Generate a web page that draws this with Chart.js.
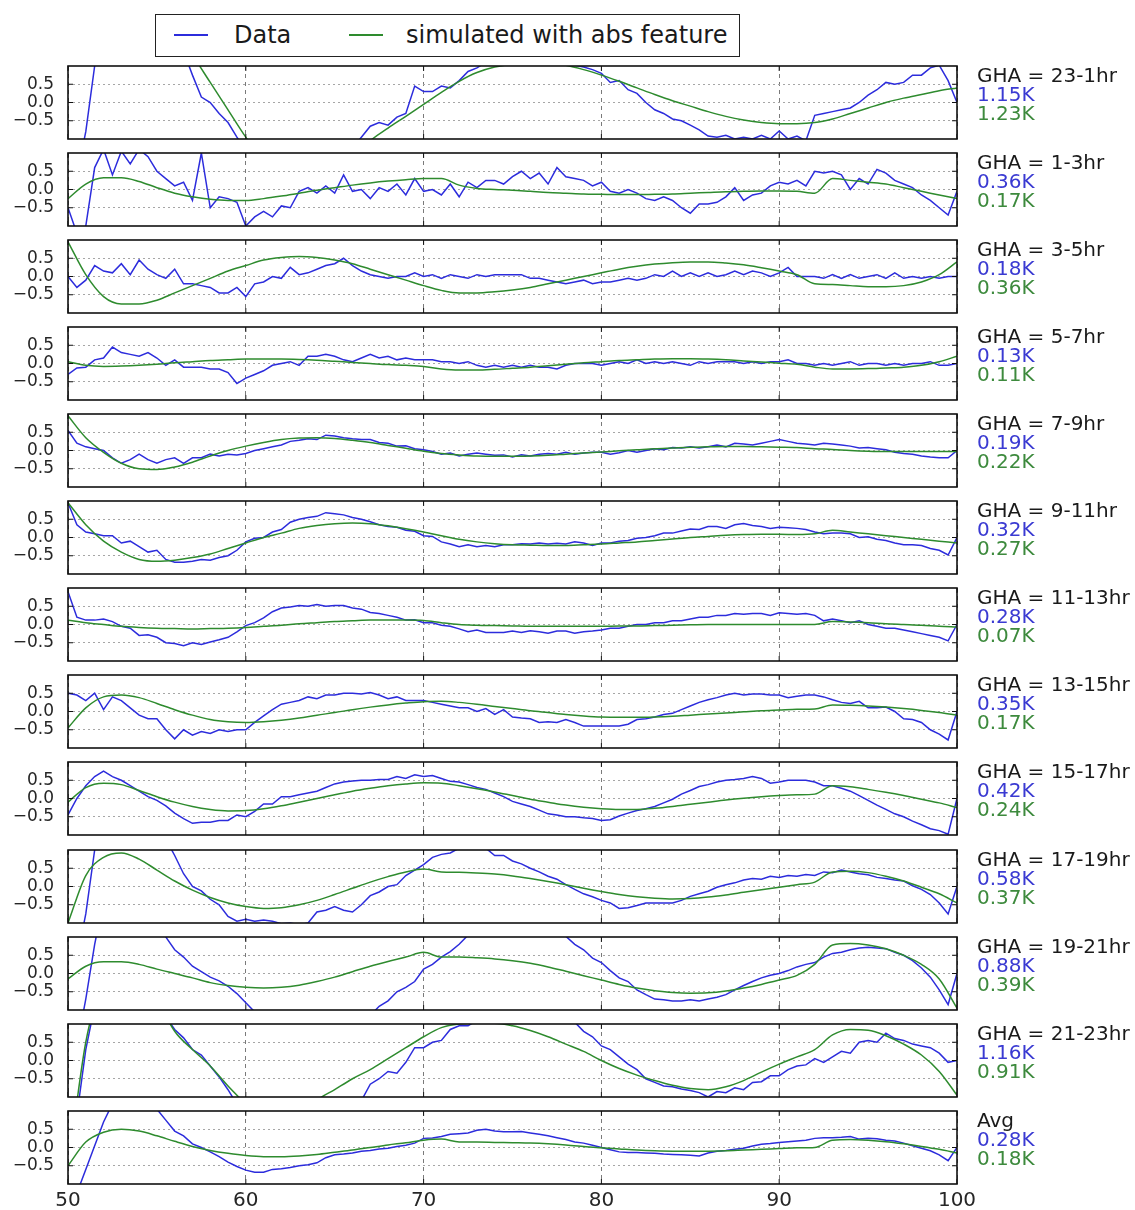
<!DOCTYPE html>
<html lang="en">
<head>
<meta charset="utf-8">
<title>Residuals by GHA bin</title>
<script src="https://cdn.jsdelivr.net/npm/chart.js@4.4.1/dist/chart.umd.min.js"></script>
<style>
  body { margin: 0; background: #fff; }
  #figure { position: relative; width: 1135px; height: 1210px; overflow: hidden; font-family: "DejaVu Sans", sans-serif; color: #1a1a1a; }
  .panel { position: absolute; left: 0; width: 1135px; height: 132px; }
  .tag { position: absolute; left: 977px; font-size: 20px; line-height: 19px; white-space: nowrap; }
  #legend { position: absolute; left: 155px; top: 14px; width: 585px; height: 43px; box-sizing: border-box; border: 1.5px solid #222; background: #fff; }
  #legend .key { position: absolute; top: 19px; height: 2px; width: 34px; }
  #legend .name { position: absolute; top: 0; line-height: 40px; font-size: 24px; white-space: nowrap; }
</style>
</head>
<body>
<div id="figure">
  <div id="legend">
    <span class="key" id="keyData" style="left: 18px"></span>
    <span class="name" style="left: 78px">Data</span>
    <span class="key" id="keySim" style="left: 193px"></span>
    <span class="name" style="left: 250px">simulated with abs feature</span>
  </div>
</div>
<script>
const BLUE = '#2c2cdc';
const GREEN = '#2e8b2e';
const BLUE_TXT = '#3a3ad2';
const GREEN_TXT = '#3d8a3d';

// frequency grid (MHz): residual spectra every 0.5, model every 1
const freqs = [];
for (let f = 50; f <= 100; f += 0.5) freqs.push(f);
const simFreqs = [];
for (let f = 50; f <= 100; f += 1) simFreqs.push(f);

const yTicks = [-0.5, 0, 0.5];

const ghaBins = ['GHA = 23-1hr', 'GHA = 1-3hr', 'GHA = 3-5hr', 'GHA = 5-7hr', 'GHA = 7-9hr',
  'GHA = 9-11hr', 'GHA = 11-13hr', 'GHA = 13-15hr', 'GHA = 15-17hr', 'GHA = 17-19hr',
  'GHA = 19-21hr', 'GHA = 21-23hr', 'Avg'];
const dataRms = ['1.15K', '0.36K', '0.18K', '0.13K', '0.19K', '0.32K', '0.28K', '0.35K', '0.42K', '0.58K', '0.88K', '1.16K', '0.28K'];
const simRms = ['1.23K', '0.17K', '0.36K', '0.11K', '0.22K', '0.27K', '0.07K', '0.17K', '0.24K', '0.37K', '0.39K', '0.91K', '0.18K'];

// measured residuals (K), one value per freqs entry
const data23_1 = [
  -3.0, -2.0, -0.8, 1.0, 2.4, 3.2, 3.6, 3.8, 3.8, 3.6,
  3.2, 2.6, 2.0, 1.4, 0.75, 0.15, 0.0, -0.3, -0.55, -0.95,
  -1.3, -1.7, -2.0, -2.2, -2.3, -2.4, -2.5, -2.5, -2.4, -2.2,
  -2.0, -1.7, -1.25, -0.95, -0.65, -0.55, -0.62, -0.4, -0.3, 0.45,
  0.3, 0.3, 0.45, 0.4, 0.6, 0.85, 0.95, 1.1, 1.2, 1.3,
  1.35, 1.4, 1.4, 1.35, 1.3, 1.2, 1.1, 1.02, 0.97, 0.9,
  0.8, 0.55, 0.6, 0.35, 0.25, 0.0, -0.2, -0.3, -0.45, -0.5,
  -0.62, -0.75, -0.92, -0.95, -0.9, -1.0, -0.95, -1.0, -0.9, -1.0,
  -0.78, -1.0, -0.92, -1.05, -0.35, -0.3, -0.25, -0.2, -0.15, 0.0,
  0.2, 0.35, 0.55, 0.5, 0.55, 0.75, 0.75, 0.95, 1.02, 0.6,
  0.0];
const data1_3 = [
  -0.5, -1.2, -1.0, 0.6, 1.1, 0.4, 1.05, 0.7, 1.1, 0.9,
  0.5, 0.3, 0.1, 0.2, -0.3, 1.0, -0.5, -0.2, -0.25, -0.35,
  -1.0, -0.75, -0.6, -0.75, -0.45, -0.5, -0.05, 0.05, -0.1, 0.1,
  -0.1, 0.4, -0.05, 0.0, -0.25, 0.05, -0.05, 0.15, -0.15, 0.3,
  -0.05, 0.0, -0.15, 0.15, -0.2, 0.2, 0.05, 0.25, 0.25, 0.15,
  0.35, 0.5, 0.3, 0.45, 0.15, 0.6, 0.35, 0.3, 0.25, 0.1,
  0.2, -0.05, -0.1, 0.0, -0.1, -0.25, -0.3, -0.2, -0.3, -0.5,
  -0.65, -0.4, -0.4, -0.35, -0.2, 0.05, -0.3, -0.15, -0.1, 0.1,
  0.2, 0.15, 0.25, 0.1, 0.5, 0.45, 0.5, 0.4, 0.0, 0.3,
  0.15, 0.55, 0.45, 0.25, 0.15, 0.05, -0.15, -0.3, -0.5, -0.7,
  -0.05];
const data3_5 = [
  0.0, -0.3, -0.1, 0.3, 0.15, 0.1, 0.35, 0.05, 0.45, 0.2,
  0.05, -0.05, 0.2, -0.2, -0.2, -0.25, -0.3, -0.45, -0.45, -0.3,
  -0.55, -0.2, -0.15, 0.0, -0.05, 0.25, 0.05, 0.1, 0.2, 0.3,
  0.35, 0.5, 0.3, 0.15, 0.05, 0.0, -0.05, 0.0, 0.0, 0.1,
  0.0, 0.05, -0.05, 0.05, 0.0, -0.05, 0.05, 0.0, 0.05, 0.05,
  0.05, 0.05, -0.05, -0.05, -0.1, -0.15, -0.2, -0.15, -0.1, -0.2,
  -0.15, -0.15, -0.1, -0.05, -0.1, -0.05, 0.05, 0.0, 0.15, 0.0,
  0.1, 0.0, 0.1, 0.0, 0.05, 0.15, 0.05, 0.15, 0.1, 0.0,
  0.1, 0.25, 0.0, 0.0, 0.0, -0.05, 0.05, -0.05, 0.05, -0.05,
  0.0, 0.05, -0.05, 0.1, -0.05, 0.0, -0.05, 0.0, -0.05, 0.0,
  0.0];
const data5_7 = [
  -0.3, -0.12, -0.1, 0.1, 0.15, 0.45, 0.3, 0.25, 0.2, 0.3,
  0.15, -0.05, 0.1, -0.1, -0.1, -0.1, -0.15, -0.15, -0.25, -0.55,
  -0.4, -0.3, -0.2, -0.05, 0.0, 0.05, -0.05, 0.2, 0.2, 0.25,
  0.2, 0.1, 0.05, 0.15, 0.25, 0.15, 0.2, 0.1, 0.15, 0.1,
  0.1, 0.1, 0.05, 0.05, 0.0, 0.05, -0.05, -0.1, -0.05, -0.1,
  -0.05, -0.1, -0.05, -0.1, -0.1, -0.15, -0.05, 0.0, 0.0, 0.0,
  -0.05, 0.0, 0.05, 0.0, 0.1, 0.0, 0.05, 0.0, 0.05, 0.0,
  -0.05, 0.05, 0.0, 0.05, 0.05, 0.05, 0.0, 0.05, 0.0, 0.05,
  0.05, 0.1, 0.0, 0.0, -0.05, 0.0, -0.05, 0.0, 0.05, -0.05,
  0.0, 0.0, -0.05, 0.0, -0.05, 0.0, 0.0, 0.05, -0.05, -0.05,
  0.0];
const data7_9 = [
  0.55, 0.2, 0.1, 0.05, 0.0, -0.2, -0.35, -0.25, -0.1, -0.25,
  -0.35, -0.25, -0.2, -0.35, -0.2, -0.2, -0.1, -0.15, -0.1, -0.12,
  -0.08, 0.0, 0.05, 0.1, 0.15, 0.25, 0.28, 0.32, 0.3, 0.42,
  0.4, 0.35, 0.32, 0.3, 0.3, 0.22, 0.2, 0.12, 0.13, 0.05,
  0.02, -0.03, -0.1, -0.07, -0.15, -0.1, -0.07, -0.1, -0.13, -0.12,
  -0.18, -0.12, -0.15, -0.1, -0.08, -0.1, -0.05, -0.1, -0.07, -0.05,
  -0.05, -0.1, -0.06, 0.0, -0.05, 0.0, 0.05, 0.02, 0.08, 0.07,
  0.1, 0.07, 0.1, 0.15, 0.1, 0.2, 0.18, 0.15, 0.2, 0.25,
  0.3, 0.25, 0.2, 0.18, 0.15, 0.2, 0.18, 0.15, 0.12, 0.07,
  0.08, 0.05, 0.02, -0.05, -0.08, -0.1, -0.15, -0.18, -0.2, -0.2,
  0.0];
const data9_11 = [
  0.95, 0.35, 0.15, 0.1, 0.05, 0.05, -0.15, -0.1, -0.25, -0.4,
  -0.35, -0.6, -0.68, -0.68, -0.65, -0.6, -0.62, -0.55, -0.5, -0.35,
  -0.12, -0.02, 0.0, 0.15, 0.22, 0.42, 0.5, 0.55, 0.58, 0.68,
  0.65, 0.62, 0.55, 0.5, 0.43, 0.35, 0.3, 0.28, 0.2, 0.17,
  0.05, 0.03, -0.12, -0.18, -0.25, -0.2, -0.25, -0.22, -0.25, -0.2,
  -0.2, -0.17, -0.18, -0.15, -0.18, -0.16, -0.18, -0.12, -0.15, -0.22,
  -0.15, -0.15, -0.1, -0.08, -0.02, 0.0, 0.05, 0.12, 0.12, 0.18,
  0.23, 0.22, 0.3, 0.3, 0.25, 0.35, 0.38, 0.33, 0.3, 0.25,
  0.28, 0.27, 0.25, 0.22, 0.15, 0.1, 0.12, 0.12, 0.1, 0.0,
  0.02, -0.05, -0.08, -0.15, -0.2, -0.2, -0.22, -0.3, -0.35, -0.48,
  0.0];
const data11_13 = [
  0.9, 0.2, 0.12, 0.12, 0.15, 0.08, -0.05, -0.1, -0.3, -0.28,
  -0.35, -0.5, -0.52, -0.58, -0.5, -0.55, -0.48, -0.42, -0.35, -0.2,
  -0.03, 0.05, 0.18, 0.35, 0.45, 0.48, 0.52, 0.5, 0.55, 0.5,
  0.52, 0.52, 0.45, 0.42, 0.33, 0.3, 0.25, 0.2, 0.12, 0.13,
  0.05, 0.05, -0.02, -0.05, -0.12, -0.2, -0.15, -0.22, -0.22, -0.22,
  -0.18, -0.22, -0.17, -0.2, -0.24, -0.18, -0.18, -0.24, -0.2, -0.18,
  -0.15, -0.1, -0.1, -0.05, 0.0, 0.0, 0.05, 0.05, 0.1, 0.1,
  0.15, 0.2, 0.2, 0.25, 0.25, 0.3, 0.28, 0.3, 0.3, 0.25,
  0.32, 0.3, 0.28, 0.3, 0.25, 0.1, 0.15, 0.1, 0.05, 0.1,
  0.0, -0.05, -0.1, -0.1, -0.15, -0.2, -0.25, -0.3, -0.35, -0.45,
  0.0];
const data13_15 = [
  0.5, 0.45, 0.3, 0.5, 0.05, 0.4, 0.3, 0.1, -0.1, -0.2,
  -0.2, -0.5, -0.75, -0.5, -0.65, -0.55, -0.6, -0.5, -0.55, -0.5,
  -0.5, -0.3, -0.12, 0.05, 0.2, 0.25, 0.3, 0.4, 0.35, 0.45,
  0.45, 0.5, 0.5, 0.48, 0.52, 0.45, 0.35, 0.4, 0.3, 0.3,
  0.3, 0.25, 0.2, 0.15, 0.1, 0.1, 0.0, 0.08, -0.08, 0.05,
  -0.15, -0.18, -0.2, -0.3, -0.28, -0.3, -0.22, -0.3, -0.4, -0.4,
  -0.4, -0.4, -0.4, -0.35, -0.22, -0.2, -0.15, -0.08, -0.05, 0.05,
  0.15, 0.25, 0.32, 0.38, 0.45, 0.5, 0.45, 0.48, 0.48, 0.45,
  0.45, 0.38, 0.42, 0.45, 0.45, 0.4, 0.32, 0.25, 0.22, 0.28,
  0.1, 0.1, 0.12, 0.0, -0.2, -0.22, -0.3, -0.5, -0.62, -0.78,
  0.0];
const data15_17 = [
  -0.45, 0.0, 0.35, 0.6, 0.75, 0.6, 0.5, 0.35, 0.2, 0.05,
  -0.05, -0.2, -0.4, -0.55, -0.68, -0.65, -0.65, -0.6, -0.6, -0.45,
  -0.5, -0.35, -0.15, -0.15, 0.05, 0.05, 0.1, 0.15, 0.2, 0.3,
  0.4, 0.45, 0.48, 0.5, 0.5, 0.52, 0.52, 0.6, 0.55, 0.65,
  0.6, 0.63, 0.55, 0.47, 0.45, 0.38, 0.3, 0.25, 0.15, 0.05,
  -0.08, -0.15, -0.22, -0.32, -0.42, -0.45, -0.5, -0.5, -0.53, -0.55,
  -0.6, -0.58, -0.48, -0.4, -0.33, -0.28, -0.22, -0.12, -0.02, 0.12,
  0.22, 0.33, 0.38, 0.45, 0.5, 0.52, 0.55, 0.6, 0.55, 0.42,
  0.45, 0.5, 0.5, 0.5, 0.45, 0.35, 0.35, 0.28, 0.2, 0.08,
  -0.05, -0.18, -0.3, -0.42, -0.5, -0.62, -0.72, -0.83, -0.88, -0.98,
  0.0];
const data17_19 = [
  -3.0, -2.0, -0.75, 1.0, 2.2, 3.0, 3.3, 3.3, 3.0, 2.6,
  2.0, 1.3, 0.85, 0.35, 0.0, -0.12, -0.35, -0.5, -0.82, -0.95,
  -0.9, -0.95, -0.92, -0.95, -1.02, -1.0, -1.05, -1.0, -0.7, -0.65,
  -0.55, -0.65, -0.7, -0.5, -0.25, -0.15, 0.0, 0.05, 0.3, 0.45,
  0.6, 0.8, 0.88, 0.92, 1.05, 1.15, 1.15, 1.05, 0.85, 0.85,
  0.7, 0.62, 0.5, 0.4, 0.28, 0.2, 0.05, -0.08, -0.2, -0.28,
  -0.38, -0.45, -0.6, -0.58, -0.52, -0.45, -0.45, -0.45, -0.45, -0.38,
  -0.27, -0.2, -0.13, -0.02, 0.05, 0.1, 0.18, 0.22, 0.2, 0.28,
  0.25, 0.3, 0.28, 0.33, 0.3, 0.4, 0.38, 0.45, 0.4, 0.35,
  0.32, 0.25, 0.22, 0.18, 0.15, 0.02, -0.08, -0.22, -0.45, -0.75,
  0.0];
const data19_21 = [
  -3.0, -2.0, -0.7, 0.8, 2.0, 2.8, 3.2, 3.4, 3.2, 2.6,
  1.8, 1.0, 0.65, 0.45, 0.2, 0.05, -0.1, -0.2, -0.35, -0.55,
  -0.8, -1.05, -1.35, -1.6, -1.8, -2.0, -2.1, -2.2, -2.2, -2.1,
  -2.0, -1.8, -1.6, -1.35, -1.15, -0.9, -0.75, -0.5, -0.38, -0.22,
  0.12, 0.25, 0.45, 0.6, 0.8, 1.05, 1.2, 1.3, 1.4, 1.45,
  1.5, 1.5, 1.45, 1.4, 1.3, 1.15, 1.02, 0.8, 0.65, 0.42,
  0.3, 0.08, -0.12, -0.22, -0.45, -0.58, -0.7, -0.72, -0.75, -0.75,
  -0.72, -0.75, -0.7, -0.65, -0.58, -0.45, -0.33, -0.22, -0.12, -0.05,
  0.0, 0.08, 0.18, 0.25, 0.3, 0.45, 0.55, 0.58, 0.65, 0.7,
  0.72, 0.7, 0.68, 0.58, 0.5, 0.35, 0.15, -0.1, -0.45, -0.85,
  0.0];
const data21_23 = [
  -3.0, -1.5, 0.3, 1.5, 2.5, 3.0, 3.2, 3.2, 3.0, 2.6,
  2.0, 1.2, 0.85, 0.62, 0.3, 0.15, -0.15, -0.45, -0.8, -1.2,
  -1.6, -2.0, -2.3, -2.5, -2.6, -2.6, -2.5, -2.3, -2.1, -1.9,
  -1.7, -1.5, -1.3, -1.1, -0.65, -0.5, -0.3, -0.35, -0.05, 0.35,
  0.35, 0.5, 0.55, 0.85, 0.95, 0.95, 1.1, 1.2, 1.3, 1.35,
  1.4, 1.4, 1.35, 1.3, 1.25, 1.2, 1.1, 1.05, 0.8, 0.65,
  0.4, 0.3, 0.1, -0.1, -0.25, -0.5, -0.6, -0.7, -0.72, -0.78,
  -0.82, -0.88, -1.0, -0.85, -0.88, -0.75, -0.8, -0.6, -0.58, -0.42,
  -0.42, -0.25, -0.15, -0.12, 0.05, -0.05, 0.1, 0.25, 0.2, 0.5,
  0.55, 0.5, 0.75, 0.6, 0.55, 0.45, 0.4, 0.35, 0.2, -0.05,
  0.0];
const dataAvg = [
  -1.8, -1.25, -0.6, 0.05, 0.7, 1.2, 1.3, 1.4, 1.35, 1.2,
  1.05, 0.75, 0.45, 0.32, 0.1, 0.0, -0.12, -0.25, -0.4, -0.52,
  -0.62, -0.68, -0.68, -0.6, -0.58, -0.55, -0.5, -0.47, -0.42, -0.28,
  -0.2, -0.18, -0.15, -0.1, -0.08, -0.04, -0.02, 0.03, 0.06, 0.12,
  0.25, 0.26, 0.3, 0.36, 0.38, 0.4, 0.47, 0.5, 0.45, 0.43,
  0.43, 0.44, 0.4, 0.36, 0.32, 0.27, 0.22, 0.15, 0.12, 0.06,
  0.0, -0.06, -0.12, -0.14, -0.14, -0.15, -0.16, -0.18, -0.19, -0.2,
  -0.21, -0.23, -0.15, -0.1, -0.08, -0.05, -0.02, 0.04, 0.09, 0.11,
  0.14, 0.16, 0.18, 0.2, 0.25, 0.27, 0.27, 0.28, 0.3, 0.23,
  0.25, 0.24, 0.2, 0.18, 0.12, 0.05, -0.02, -0.09, -0.2, -0.36,
  0.0];

// simulated spectra with the absorption feature (K), one value per simFreqs entry
const sim23_1 = [
  4.0, 4.4, 4.5, 4.2, 3.6, 2.8, 2.0, 1.3, 0.55, -0.2,
  -0.95, -1.6, -2.1, -2.4, -2.4, -2.1, -1.6, -1.05, -0.7, -0.38,
  -0.05, 0.28, 0.58, 0.82, 0.97, 1.05, 1.1, 1.08, 1.02, 0.9,
  0.75, 0.58, 0.4, 0.22, 0.05, -0.1, -0.25, -0.38, -0.48, -0.55,
  -0.58, -0.58, -0.55, -0.45, -0.3, -0.15, 0.0, 0.12, 0.22, 0.32, 0.4];
const sim1_3 = [
  -0.25, 0.15, 0.32, 0.32, 0.22, 0.05, -0.1, -0.2, -0.27, -0.3,
  -0.3, -0.25, -0.18, -0.1, -0.02, 0.05, 0.12, 0.18, 0.23, 0.27,
  0.3, 0.3, 0.12, 0.03, 0.0, -0.02, -0.05, -0.08, -0.1, -0.12,
  -0.13, -0.14, -0.14, -0.13, -0.12, -0.1, -0.08, -0.06, -0.05, -0.04,
  -0.04, -0.05, -0.1, 0.3, 0.25, 0.2, 0.15, 0.05, -0.05, -0.15, -0.25];
const sim3_5 = [
  0.95, 0.05, -0.55, -0.75, -0.75, -0.65, -0.45, -0.25, -0.05, 0.15,
  0.3, 0.45, 0.52, 0.55, 0.52, 0.45, 0.35, 0.2, 0.05, -0.1,
  -0.25, -0.38, -0.45, -0.45, -0.42, -0.37, -0.3, -0.2, -0.1, 0.0,
  0.1, 0.2, 0.28, 0.34, 0.38, 0.4, 0.4, 0.37, 0.32, 0.24,
  0.15, 0.05, -0.2, -0.22, -0.25, -0.28, -0.28, -0.25, -0.15, 0.05, 0.4];
const sim5_7 = [
  0.05, -0.05, -0.08, -0.07, -0.05, -0.02, 0.02, 0.05, 0.08, 0.1,
  0.12, 0.12, 0.12, 0.11, 0.09, 0.06, 0.03, 0.0, -0.03, -0.05,
  -0.08, -0.15, -0.18, -0.18, -0.16, -0.13, -0.1, -0.06, -0.02, 0.02,
  0.05, 0.08, 0.1, 0.12, 0.13, 0.13, 0.12, 0.1, 0.07, 0.04,
  0.01, -0.02, -0.1, -0.15, -0.15, -0.14, -0.12, -0.1, -0.05, 0.05, 0.2];
const sim7_9 = [
  0.95, 0.35, -0.05, -0.35, -0.5, -0.52, -0.45, -0.32, -0.15, 0.0,
  0.12, 0.22, 0.3, 0.34, 0.35, 0.33, 0.28, 0.22, 0.14, 0.06,
  -0.02, -0.08, -0.12, -0.15, -0.16, -0.16, -0.15, -0.13, -0.1, -0.07,
  -0.04, -0.01, 0.02, 0.05, 0.07, 0.09, 0.1, 0.11, 0.11, 0.1,
  0.09, 0.08, 0.05, 0.03, 0.0, -0.02, -0.03, -0.03, -0.03, -0.03, -0.03];
const sim9_11 = [
  0.95, 0.35, -0.1, -0.4, -0.6, -0.65, -0.62, -0.55, -0.45, -0.3,
  -0.15, 0.0, 0.12, 0.25, 0.33, 0.38, 0.4, 0.38, 0.32, 0.24,
  0.15, 0.05, -0.05, -0.12, -0.17, -0.2, -0.21, -0.22, -0.22, -0.2,
  -0.18, -0.15, -0.12, -0.08, -0.04, 0.0, 0.03, 0.06, 0.08, 0.09,
  0.09, 0.08, 0.1, 0.2, 0.15, 0.1, 0.05, 0.0, -0.05, -0.1, -0.15];
const sim11_13 = [
  0.12, 0.05, 0.0, -0.05, -0.08, -0.1, -0.11, -0.12, -0.11, -0.1,
  -0.08, -0.05, -0.02, 0.02, 0.05, 0.08, 0.1, 0.12, 0.12, 0.12,
  0.11, 0.05, 0.0, -0.02, -0.03, -0.04, -0.05, -0.05, -0.05, -0.05,
  -0.05, -0.04, -0.04, -0.03, -0.02, -0.01, 0.0, 0.0, 0.0, 0.0,
  0.0, 0.0, 0.0, 0.08, 0.07, 0.05, 0.02, 0.0, -0.02, -0.05, -0.07];
const sim13_15 = [
  -0.45, 0.1, 0.4, 0.45, 0.38, 0.22, 0.05, -0.1, -0.22, -0.28,
  -0.3, -0.28, -0.24, -0.18, -0.1, -0.03, 0.05, 0.12, 0.18, 0.23,
  0.27, 0.28, 0.25, 0.2, 0.14, 0.08, 0.02, -0.03, -0.08, -0.12,
  -0.15, -0.16, -0.16, -0.15, -0.13, -0.1, -0.07, -0.04, -0.01, 0.02,
  0.04, 0.06, 0.07, 0.18, 0.17, 0.15, 0.12, 0.08, 0.03, -0.03, -0.1];
const sim15_17 = [
  -0.1, 0.3, 0.42, 0.38, 0.22, 0.05, -0.1, -0.22, -0.3, -0.34,
  -0.33, -0.28, -0.2, -0.1, 0.0, 0.1, 0.2, 0.28, 0.35, 0.4,
  0.43, 0.42, 0.35, 0.27, 0.18, 0.08, -0.02, -0.1, -0.18, -0.24,
  -0.28, -0.3, -0.3, -0.27, -0.22, -0.16, -0.1, -0.04, 0.01, 0.05,
  0.08, 0.1, 0.12, 0.35, 0.32, 0.25, 0.17, 0.08, -0.02, -0.12, -0.25];
const sim17_19 = [
  -1.0, 0.3, 0.8, 0.92, 0.75, 0.45, 0.15, -0.1, -0.3, -0.45,
  -0.55, -0.6, -0.58, -0.5, -0.38, -0.22, -0.05, 0.12, 0.27, 0.4,
  0.48, 0.4, 0.39, 0.37, 0.34, 0.29, 0.22, 0.14, 0.05, -0.05,
  -0.14, -0.22, -0.28, -0.32, -0.34, -0.33, -0.29, -0.23, -0.16, -0.09,
  -0.02, 0.05, 0.12, 0.4, 0.42, 0.38, 0.28, 0.15, -0.02, -0.2, -0.45];
const sim19_21 = [
  -0.15, 0.2, 0.32, 0.32, 0.25, 0.12, 0.0, -0.12, -0.25, -0.33,
  -0.38, -0.4, -0.38, -0.32, -0.22, -0.1, 0.05, 0.2, 0.33, 0.45,
  0.58, 0.45, 0.45, 0.43, 0.4, 0.35, 0.28, 0.18, 0.06, -0.06,
  -0.18, -0.3, -0.4, -0.47, -0.52, -0.54, -0.53, -0.48, -0.4, -0.3,
  -0.18, -0.05, 0.25, 0.78, 0.82, 0.78, 0.68, 0.5, 0.25, -0.15, -0.95];
const sim21_23 = [
  -3.0, 0.5, 2.2, 3.0, 2.8, 1.7, 0.8, 0.3, -0.15, -0.7,
  -1.2, -1.7, -1.9, -1.7, -1.1, -0.8, -0.5, -0.25, 0.05, 0.35,
  0.65, 0.9, 1.0, 1.02, 1.02, 0.95, 0.82, 0.65, 0.45, 0.25,
  0.0, -0.22, -0.4, -0.55, -0.68, -0.77, -0.8, -0.72, -0.55, -0.32,
  -0.1, 0.1, 0.3, 0.7, 0.85, 0.83, 0.68, 0.45, 0.15, -0.3, -0.95];
const simAvg = [
  -0.5, 0.15, 0.42, 0.5, 0.45, 0.32, 0.17, 0.03, -0.08, -0.16,
  -0.22, -0.25, -0.25, -0.23, -0.19, -0.13, -0.07, 0.0, 0.07, 0.13,
  0.2, 0.23, 0.15, 0.15, 0.14, 0.13, 0.12, 0.1, 0.07, 0.03,
  -0.01, -0.04, -0.07, -0.09, -0.1, -0.1, -0.1, -0.09, -0.07, -0.05,
  -0.03, -0.01, 0.0, 0.2, 0.22, 0.2, 0.16, 0.1, 0.03, -0.05, -0.15];

const dataSeries = [data23_1, data1_3, data3_5, data5_7, data7_9, data9_11, data11_13,
  data13_15, data15_17, data17_19, data19_21, data21_23, dataAvg];
const simSeries = [sim23_1, sim1_3, sim3_5, sim5_7, sim7_9, sim9_11, sim11_13,
  sim13_15, sim15_17, sim17_19, sim19_21, sim21_23, simAvg];

// panel geometry on the page
const FIRST_TOP = 66;
const PANEL_STEP = 87.06;
const PAD_TOP = 26;
const PLOT_RIGHT = 957;

function toPoints(xs, ys) {
    return xs.map((x, i) => ({x: x, y: ys[i]}));
}

function tickLabel(v) {
    return (v < 0 ? '\u2212' : '') + Math.abs(v).toFixed(1);
}

// black box round the plot area with inward tick marks on all four sides
const framePlugin = {
    id: 'frame',
    afterDraw(chart) {
        const {ctx, chartArea: a, scales} = chart;
        ctx.save();
        ctx.strokeStyle = '#111';
        ctx.lineWidth = 1;
        ctx.beginPath();
        scales.x.ticks.forEach(t => {
            const px = scales.x.getPixelForValue(t.value);
            ctx.moveTo(px, a.top); ctx.lineTo(px, a.top + 5);
            ctx.moveTo(px, a.bottom); ctx.lineTo(px, a.bottom - 5);
        });
        scales.y.ticks.forEach(t => {
            const py = scales.y.getPixelForValue(t.value);
            ctx.moveTo(a.left, py); ctx.lineTo(a.left + 5, py);
            ctx.moveTo(a.right, py); ctx.lineTo(a.right - 5, py);
        });
        ctx.stroke();
        ctx.lineWidth = 1.6;
        ctx.strokeRect(a.left, a.top, a.right - a.left, a.bottom - a.top);
        ctx.restore();
    }
};

document.getElementById('keyData').style.background = BLUE;
document.getElementById('keySim').style.background = GREEN;

const figure = document.getElementById('figure');

dataSeries.forEach((values, i) => {
    const top = Math.round(FIRST_TOP + PANEL_STEP * i);
    const isLast = i === dataSeries.length - 1;

    const box = document.createElement('div');
    box.className = 'panel';
    box.style.top = (top - PAD_TOP) + 'px';
    const canvas = document.createElement('canvas');
    box.appendChild(canvas);
    figure.appendChild(box);

    const tag = document.createElement('div');
    tag.className = 'tag';
    tag.style.top = top + 'px';
    tag.innerHTML = `<div>${ghaBins[i]}</div>` +
        `<div style="color:${BLUE_TXT}">${dataRms[i]}</div>` +
        `<div style="color:${GREEN_TXT}">${simRms[i]}</div>`;
    figure.appendChild(tag);

    new Chart(canvas, {
        type: 'line',
        data: {
            datasets: [{
                label: 'Data',
                data: toPoints(freqs, values),
                borderColor: BLUE,
                borderWidth: 1.5,
                pointRadius: 0,
                tension: 0,
                clip: 0,
                order: 2
            }, {
                label: 'simulated with abs feature',
                data: toPoints(simFreqs, simSeries[i]),
                borderColor: GREEN,
                borderWidth: 1.5,
                pointRadius: 0,
                cubicInterpolationMode: 'monotone',
                clip: 0,
                order: 1
            }]
        },
        options: {
            responsive: true,
            maintainAspectRatio: false,
            animation: false,
            events: [],
            layout: { padding: { top: PAD_TOP, right: 1135 - PLOT_RIGHT, bottom: 0, left: 0 } },
            plugins: { legend: { display: false }, tooltip: { enabled: false } },
            scales: {
                x: {
                    type: 'linear',
                    min: 50,
                    max: 100,
                    ticks: {
                        stepSize: 10,
                        display: isLast,
                        maxRotation: 0,
                        padding: 5,
                        color: '#262626',
                        font: { family: 'DejaVu Sans', size: 20 }
                    },
                    grid: { color: '#7a7a7a', lineWidth: 1, drawTicks: false },
                    border: { display: false, dash: [4, 4] },
                    afterFit: scale => { scale.height = 33; }
                },
                y: {
                    min: -1,
                    max: 1,
                    afterBuildTicks: scale => { scale.ticks = yTicks.map(v => ({ value: v })); },
                    ticks: {
                        autoSkip: false,
                        padding: 14,
                        color: '#262626',
                        font: { family: 'DejaVu Sans', size: 17 },
                        callback: tickLabel
                    },
                    grid: { color: '#a6a6a6', lineWidth: 1, drawTicks: false },
                    border: { display: false, dash: [2, 3] },
                    afterFit: scale => { scale.width = 68; }
                }
            }
        },
        plugins: [framePlugin]
    });
});
</script>
</body>
</html>
